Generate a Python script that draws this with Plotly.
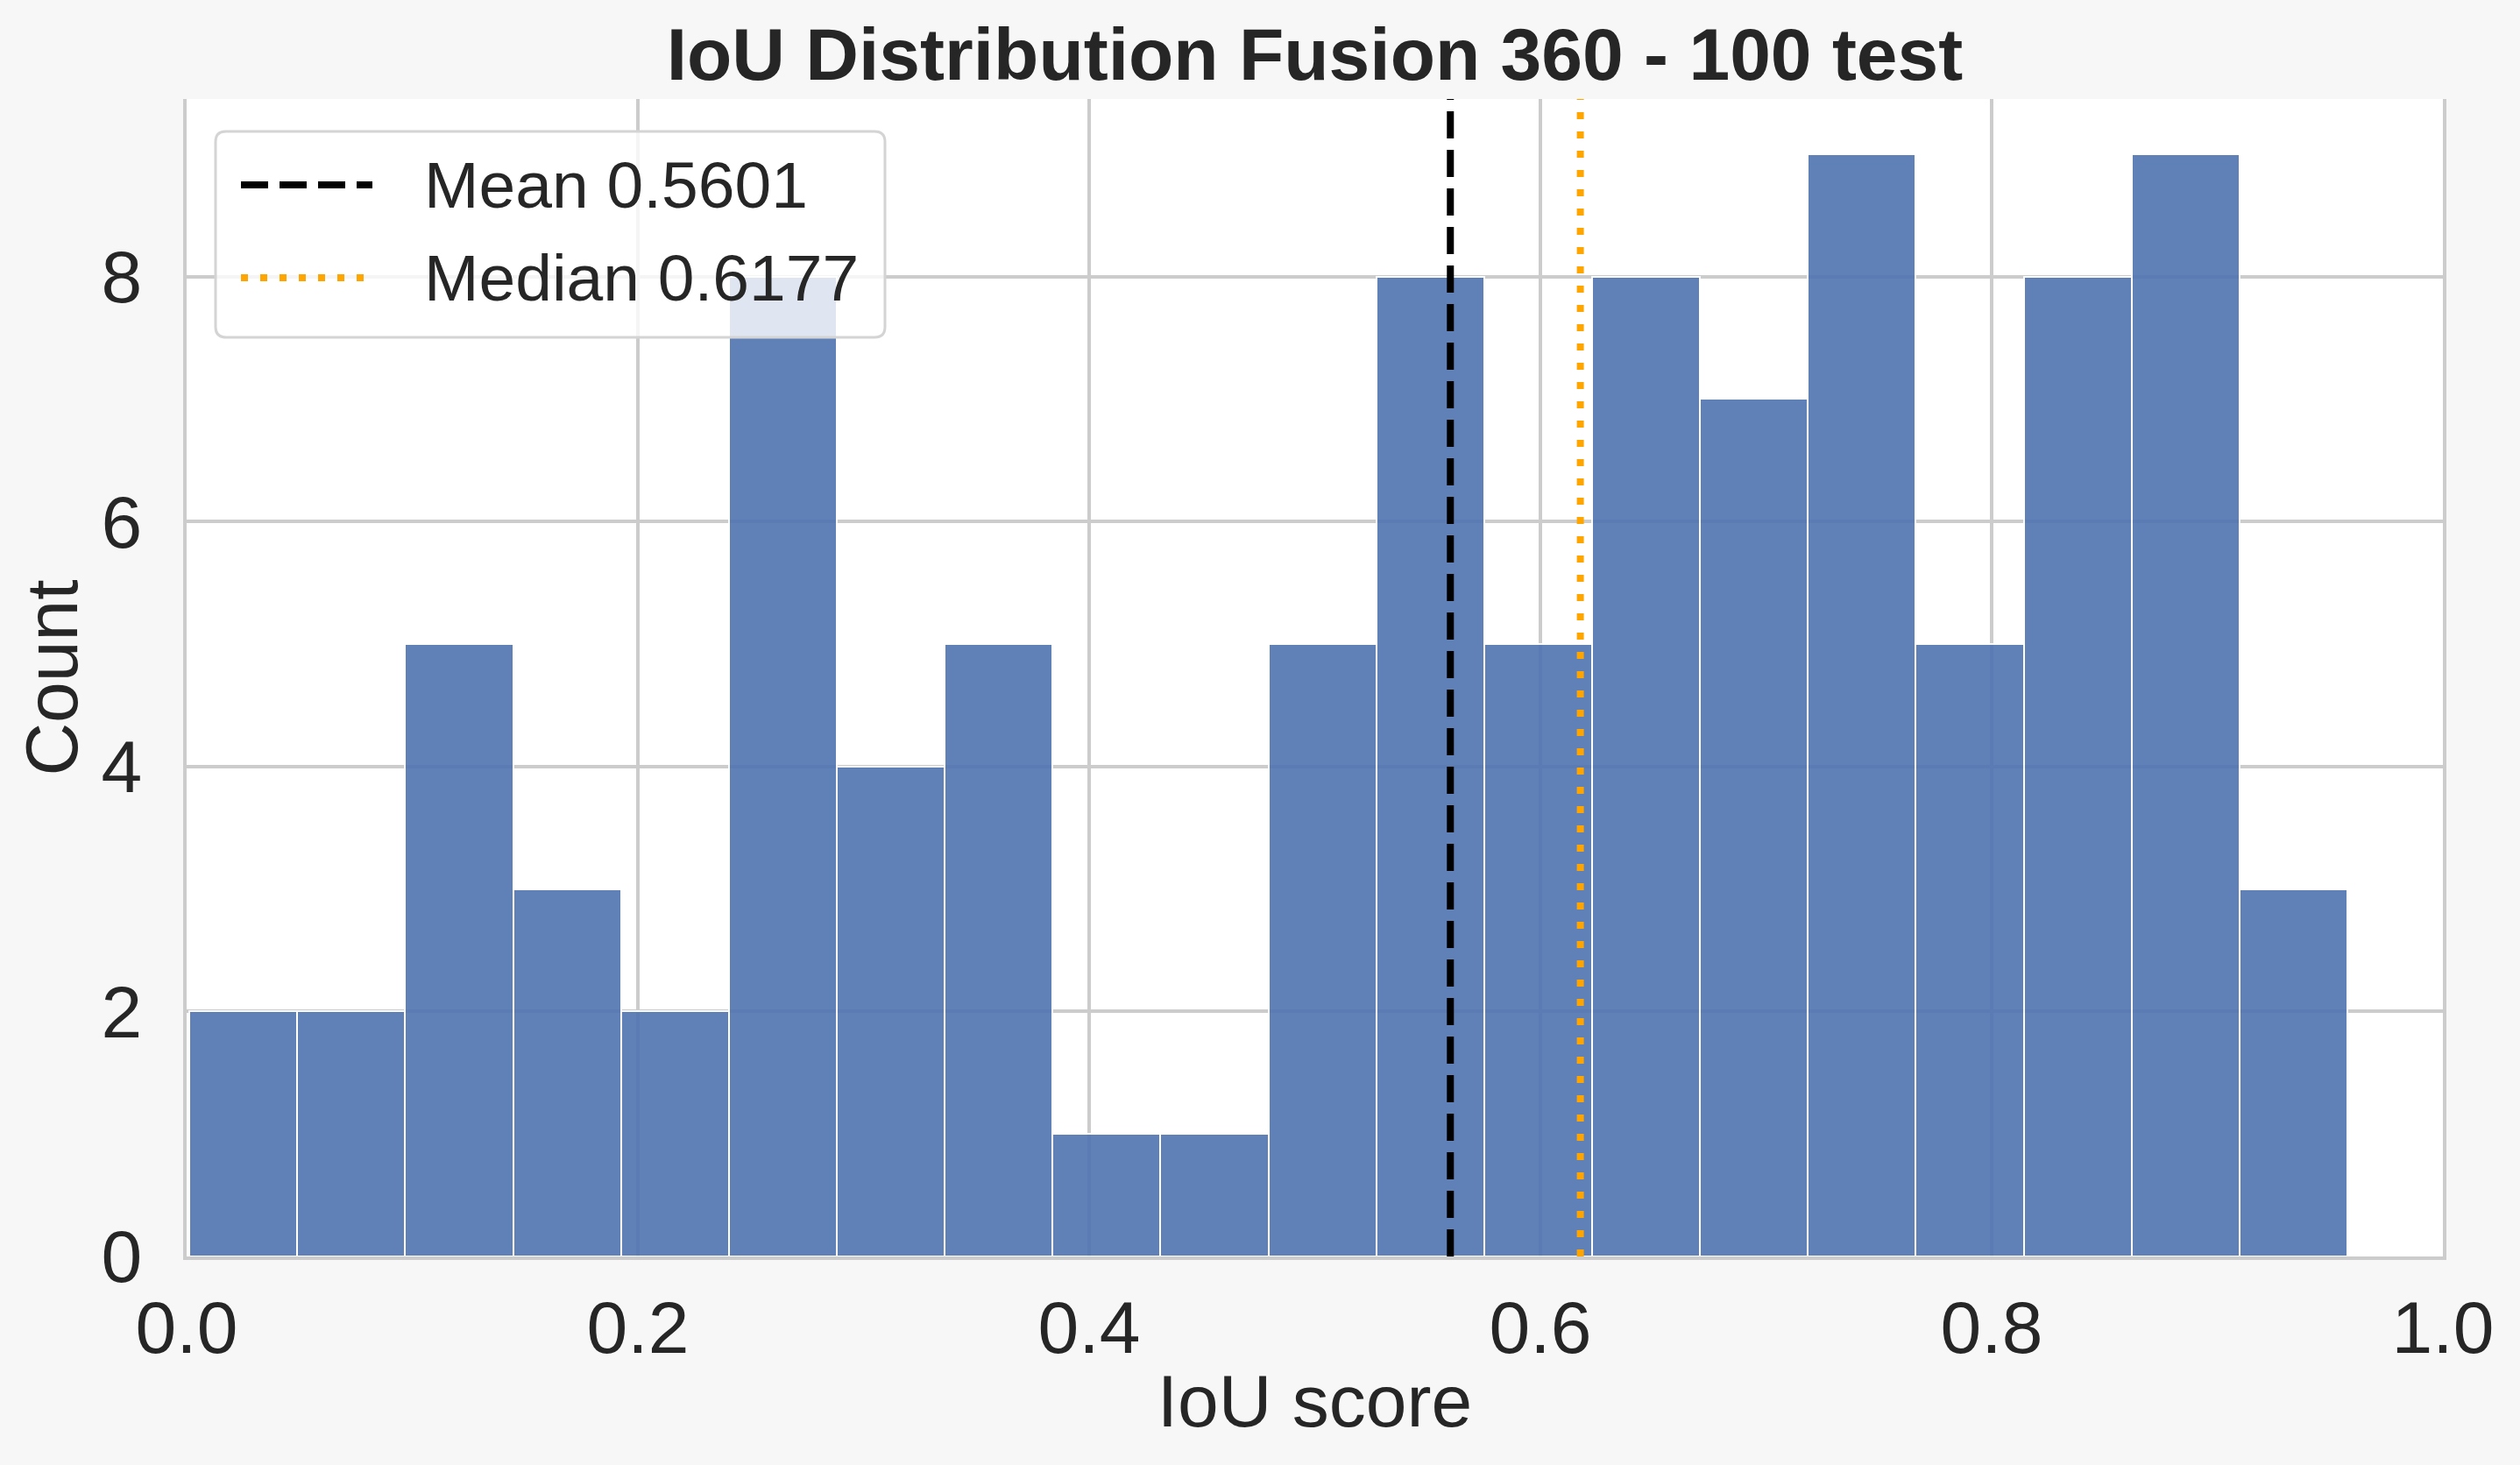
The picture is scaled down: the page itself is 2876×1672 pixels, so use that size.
import numpy as np
import plotly.graph_objects as go

# ---- data ----
bin_start = 0.0012
bin_end = 0.9577
counts = [2, 2, 5, 3, 2, 8, 4, 5, 1, 1, 5, 8, 5, 8, 7, 9, 5, 8, 9, 3]
mean_val = 0.5601
median_val = 0.6177
title_text = "IoU Distribution Fusion 360 - 100 test"
x_ticks = [0.0, 0.2, 0.4, 0.6, 0.8, 1.0]
y_ticks = [0, 2, 4, 6, 8]

edges = np.linspace(bin_start, bin_end, len(counts) + 1)
centers = (edges[:-1] + edges[1:]) / 2
width = edges[1] - edges[0]

W, H = 2876, 1672
L, R, T, B = 213, 88, 113, 238
pw, ph = W - L - R, H - T - B

def px(xp):
    return (xp - L) / pw

def py(yp):
    return (H - B - yp) / ph

FONT = "Liberation Sans, Arial, sans-serif"
TXT = "#262626"
GRID = "#cccccc"

fig = go.Figure()
fig.add_trace(go.Bar(
    x=centers, y=counts, width=width,
    marker=dict(color="#4c72b0", line=dict(color="white", width=2)),
    opacity=0.89, showlegend=False, name="IoU"))

fig.add_shape(type="line", xref="x", yref="y domain", x0=mean_val, x1=mean_val, y0=0, y1=1,
              line=dict(color="black", width=8, dash="31px,13px"), layer="above")
fig.add_shape(type="line", xref="x", yref="y domain", x0=median_val, x1=median_val, y0=0, y1=1,
              line=dict(color="#ffa500", width=8, dash="8px,14px"), layer="above")

# ---- legend (drawn manually to match matplotlib look) ----
bx0, bx1, by0, by1 = px(246), px(1010), py(385), py(150)
rx, ry = 12 / pw, 12 / ph
path = (f"M{bx0+rx},{by1} L{bx1-rx},{by1} Q{bx1},{by1} {bx1},{by1-ry} "
        f"L{bx1},{by0+ry} Q{bx1},{by0} {bx1-rx},{by0} L{bx0+rx},{by0} "
        f"Q{bx0},{by0} {bx0},{by0+ry} L{bx0},{by1-ry} Q{bx0},{by1} {bx0+rx},{by1} Z")
fig.add_shape(type="path", xref="paper", yref="paper", path=path,
              fillcolor="rgba(255,255,255,0.8)", line=dict(color="#d4d4d4", width=3), layer="above")
fig.add_shape(type="line", xref="paper", yref="paper", x0=px(275), x1=px(425), y0=py(211), y1=py(211),
              line=dict(color="black", width=8, dash="31px,13px"), layer="above")
fig.add_shape(type="line", xref="paper", yref="paper", x0=px(275), x1=px(425), y0=py(317), y1=py(317),
              line=dict(color="#ffa500", width=8, dash="8px,14px"), layer="above")
fig.add_annotation(xref="paper", yref="paper", x=px(482), y=py(211), xanchor="left", yanchor="middle",
                   text=f"Mean {mean_val:.4f}", showarrow=False, font=dict(size=75, color=TXT, family=FONT))
fig.add_annotation(xref="paper", yref="paper", x=px(482), y=py(317), xanchor="left", yanchor="middle",
                   text=f"Median {median_val:.4f}", showarrow=False, font=dict(size=75, color=TXT, family=FONT))

fig.update_layout(
    width=W, height=H,
    margin=dict(l=L, r=R, t=T, b=B, autoexpand=False),
    paper_bgcolor="#f7f7f7", plot_bgcolor="white",
    font=dict(family=FONT, color=TXT),
    title=dict(text=f"<b>{title_text}</b>", x=0.5, xref="paper", xanchor="center",
               y=1 - 62 / H, yanchor="middle", font=dict(size=84, color=TXT, family=FONT)),
    bargap=0,
    xaxis=dict(range=[0, 1], tickvals=x_ticks, ticktext=[f"{v:.1f}" for v in x_ticks],
               showgrid=True, gridcolor=GRID, gridwidth=3.5, zeroline=False,
               showline=True, linecolor=GRID, linewidth=4, mirror=False,
               ticks="outside", ticklen=5, tickcolor="rgba(0,0,0,0)",
               tickfont=dict(size=84, color=TXT, family=FONT),
               title=dict(text="IoU score", font=dict(size=84, color=TXT, family=FONT), standoff=9)),
    yaxis=dict(range=[0, 9.45], tickvals=y_ticks,
               showgrid=True, gridcolor=GRID, gridwidth=3.5, zeroline=False,
               showline=True, linecolor=GRID, linewidth=4, mirror=True,
               ticks="outside", ticklen=30, tickcolor="rgba(0,0,0,0)",
               tickfont=dict(size=84, color=TXT, family=FONT),
               title=dict(text="Count", font=dict(size=84, color=TXT, family=FONT), standoff=0)),
)

fig.write_html("out.html")
